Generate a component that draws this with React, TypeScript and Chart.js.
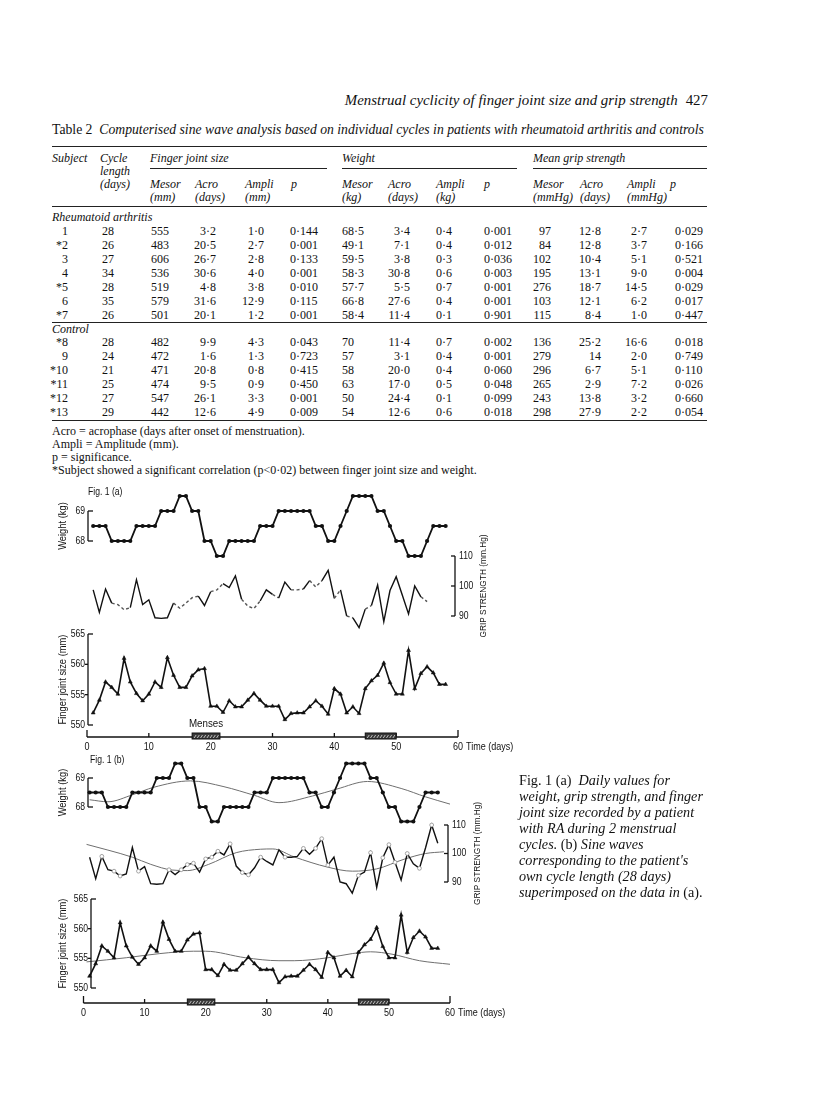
import React, { useEffect, useRef } from 'react';
import { Chart, registerables } from 'chart.js';
Chart.register(...registerables);

// ---------------- DATA ----------------
const days = Array.from({ length: 58 }, (_, i) => i + 1);
const weightKg = [
  68.5, 68.5, 68.5, 68, 68, 68, 68, 68.5, 68.5, 68.5,
  68.5, 69, 69, 69, 69.5, 69.5, 69, 69, 68, 68,
  67.5, 67.5, 68, 68, 68, 68, 68, 68.5, 68.5, 68.5,
  69, 69, 69, 69, 69, 69, 68.5, 68.5, 68, 68,
  68.5, 69, 69.5, 69.5, 69.5, 69.5, 69, 69, 68.5, 68,
  68, 67.5, 67.5, 67.5, 68, 68.5, 68.5, 68.5,
];
const gripMmHg = [
  98.7, 91.2, 99.0, 94.3, 93.8, 92.1, 92.8, 102.1, 93.8, 95.4,
  89.4, 89.2, 89.4, 94.3, 92.6, 94.3, 96.1, 96.6, 93.5, 98.1,
  98.7, 100.8, 99.5, 103.4, 95.6, 93.3, 92.5, 95.0, 98.7, 97.2,
  96.0, 101.3, 98.7, 98.7, 99.0, 101.8, 99.7, 101.8, 105.2, 95.9,
  98.7, 90.0, 89.4, 86.1, 92.3, 93.5, 100.3, 88.1, 98.5, 103.1,
  96.9, 90.7, 100.0, 96.4, 94.8, 102.0, 110.0, 103.6,
];
const fingerMm = [
  552.0, 554.1, 557.1, 556.2, 555.1, 561.0, 557.1, 555.2, 554.0, 555.1,
  557.1, 556.2, 561.1, 558.2, 556.2, 556.2, 558.1, 559.1, 559.3, 553.1,
  553.1, 552.1, 554.0, 553.0, 553.0, 554.1, 555.2, 554.1, 553.1, 553.1,
  553.1, 550.9, 551.9, 552.0, 552.0, 553.0, 554.0, 553.1, 551.8, 556.0,
  555.1, 552.0, 553.0, 551.9, 556.0, 557.3, 558.2, 560.2, 557.0, 555.1,
  555.1, 562.3, 556.0, 558.5, 559.6, 558.6, 556.7, 556.7,
];
const gripDaysInA = 55;
const gripDashedFromDayA = [4, 5, 6, 14, 15, 16, 17, 20, 21, 25, 26, 27, 30, 33, 34, 36, 37, 40, 42, 45, 54];
const gripOpenCircleDaysB = [3, 5, 6, 9, 14, 16, 17, 18, 20, 21, 22, 24, 26, 27, 29, 33, 36, 38, 39, 40, 45, 47, 49, 50, 51, 53, 55, 57];

const weightSineDays = [1, 4, 8, 11.5, 17.5, 23, 28, 32, 37.5, 41.5, 46.5, 52, 56, 60];
const weightSine = [68.25, 68.18, 68.42, 68.68, 68.9, 68.7, 68.4, 68.15, 68.38, 68.62, 68.88, 68.64, 68.35, 68.1];
const gripSineDays = [0.5, 4, 8, 11, 14.5, 17, 20.5, 25, 29, 31, 34.5, 40, 44, 48, 52.5, 56, 59];
const gripSine = [103.2, 101.2, 98.7, 96.2, 94.2, 94.0, 96.2, 100.3, 101.5, 101.6, 98.8, 95.2, 93.8, 94.6, 98.0, 100.0, 100.6];
const fingerSineDays = [0.5, 7, 12.5, 18, 20, 26.5, 32, 34.5, 40, 44, 47, 50.5, 55, 60];
const fingerSine = [554.4, 555.1, 555.8, 556.2, 556.2, 555.1, 554.6, 554.6, 555.1, 555.8, 556.1, 555.7, 554.6, 554.0];

const mensesStart = [17, 45];
const mensesEnd = [21.5, 50];

const xTicks = [0, 10, 20, 30, 40, 50, 60];
const weightTicks = [68, 69];
const gripTicks = [90, 100, 110];
const fingerTicks = [550, 555, 560, 565];

const tableHeadGroups = ['Finger joint size', 'Weight', 'Mean grip strength'];
const raRows = [
  ['1', '28', '555', '3·2', '1·0', '0·144', '68·5', '3·4', '0·4', '0·001', '97', '12·8', '2·7', '0·029'],
  ['*2', '26', '483', '20·5', '2·7', '0·001', '49·1', '7·1', '0·4', '0·012', '84', '12·8', '3·7', '0·166'],
  ['3', '27', '606', '26·7', '2·8', '0·133', '59·5', '3·8', '0·3', '0·036', '102', '10·4', '5·1', '0·521'],
  ['4', '34', '536', '30·6', '4·0', '0·001', '58·3', '30·8', '0·6', '0·003', '195', '13·1', '9·0', '0·004'],
  ['*5', '28', '519', '4·8', '3·8', '0·010', '57·7', '5·5', '0·7', '0·001', '276', '18·7', '14·5', '0·029'],
  ['6', '35', '579', '31·6', '12·9', '0·115', '66·8', '27·6', '0·4', '0·001', '103', '12·1', '6·2', '0·017'],
  ['*7', '26', '501', '20·1', '1·2', '0·001', '58·4', '11·4', '0·1', '0·901', '115', '8·4', '1·0', '0·447'],
];
const controlRows = [
  ['*8', '28', '482', '9·9', '4·3', '0·043', '70', '11·4', '0·7', '0·002', '136', '25·2', '16·6', '0·018'],
  ['9', '24', '472', '1·6', '1·3', '0·723', '57', '3·1', '0·4', '0·001', '279', '14', '2·0', '0·749'],
  ['*10', '21', '471', '20·8', '0·8', '0·415', '58', '20·0', '0·4', '0·060', '296', '6·7', '5·1', '0·110'],
  ['*11', '25', '474', '9·5', '0·9', '0·450', '63', '17·0', '0·5', '0·048', '265', '2·9', '7·2', '0·026'],
  ['*12', '27', '547', '26·1', '3·3', '0·001', '50', '24·4', '0·1', '0·099', '243', '13·8', '3·2', '0·660'],
  ['*13', '29', '442', '12·6', '4·9', '0·009', '54', '12·6', '0·6', '0·018', '298', '27·9', '2·2', '0·054'],
];
const footnotes = [
  'Acro = acrophase (days after onset of menstruation).',
  'Ampli = Amplitude (mm).',
  'p = significance.',
  '*Subject showed a significant correlation (p<0·02) between finger joint size and weight.',
];

// ---------------- LAYOUT ----------------
const FIG_FONT = "'Liberation Sans', Arial, sans-serif";

const figA = {
  left: 40, top: 480, w: 490, h: 280,
  area: { left: 87, right: 458, top: 490, bottom: 737 },
  weight: { v1: 69, p1: 511, v2: 68, p2: 541 },
  grip: { v1: 110, p1: 556, v2: 90, p2: 616 },
  finger: { v1: 565, p1: 634, v2: 550, p2: 725 },
  weightAxisX: 88, gripAxisX: 455, fingerAxisX: 88,
  titleX: 63, gripTitleX: 483,
  label: 'Fig. 1 (a)', labelX: 88, labelY: 492,
  sine: false, gripCount: gripDaysInA, dashed: true, gripPoints: false, mensesLabel: true,
};
const figB = {
  left: 40, top: 748, w: 490, h: 300,
  area: { left: 83.5, right: 450, top: 760, bottom: 1003 },
  weight: { v1: 69, p1: 778, v2: 68, p2: 807 },
  grip: { v1: 110, p1: 825, v2: 90, p2: 882 },
  finger: { v1: 565, p1: 899, v2: 550, p2: 988 },
  weightAxisX: 88, gripAxisX: 448, fingerAxisX: 91,
  titleX: 63, gripTitleX: 477,
  label: 'Fig. 1 (b)', labelX: 90, labelY: 760,
  sine: true, gripCount: 58, dashed: false, gripPoints: true, mensesLabel: false,
};

function rangeFor(a: any, top: number, bottom: number) {
  const k = (a.v1 - a.v2) / (a.p2 - a.p1);
  return { max: a.v1 + (a.p1 - top) * k, min: a.v2 - (bottom - a.p2) * k };
}

function makeDecor(cfg: any) {
  return {
    id: 'figDecor',
    afterDatasetsDraw(chart: any) {
      const ctx = chart.ctx;
      const ox = cfg.left, oy = cfg.top;
      const line = (x1: number, y1: number, x2: number, y2: number) => {
        ctx.beginPath(); ctx.moveTo(x1, y1); ctx.lineTo(x2, y2); ctx.stroke();
      };
      const text = (s: string, x: number, y: number, align: string, size: number, sx = 0.82, rot = 0) => {
        ctx.save();
        ctx.translate(x, y);
        if (rot) ctx.rotate(rot);
        ctx.scale(sx, 1);
        ctx.font = `${size}px ${FIG_FONT}`;
        ctx.textAlign = align;
        ctx.textBaseline = 'middle';
        ctx.fillStyle = '#111';
        ctx.fillText(s, 0, 0);
        ctx.restore();
      };
      ctx.save();
      ctx.strokeStyle = '#111';
      ctx.fillStyle = '#111';
      ctx.lineWidth = 1.3;
      text(cfg.label, cfg.labelX - ox, cfg.labelY - oy, 'left', 10.5);

      const axes = [
        { id: 'yW', x: cfg.weightAxisX, ticks: weightTicks, side: 'left', title: 'Weight (kg)', titleX: cfg.titleX, tsize: 11 },
        { id: 'yG', x: cfg.gripAxisX, ticks: gripTicks, side: 'right', title: 'GRIP STRENGTH (mm.Hg)', titleX: cfg.gripTitleX, tsize: 9.8 },
        { id: 'yF', x: cfg.fingerAxisX, ticks: fingerTicks, side: 'left', title: 'Finger joint size (mm)', titleX: cfg.titleX, tsize: 11 },
      ];
      for (const ax of axes) {
        const sc = chart.scales[ax.id];
        const x = ax.x - ox;
        const ys = ax.ticks.map((v: number) => sc.getPixelForValue(v));
        const yTop = Math.min(...ys), yBot = Math.max(...ys);
        line(x, yTop, x, yBot);
        ax.ticks.forEach((v: number, i: number) => {
          const y = ys[i];
          const isEnd = i === 0 || i === ax.ticks.length - 1;
          if (ax.side === 'left') {
            if (isEnd) line(x, y, x + 5, y); else line(x - 3, y, x, y);
            text(String(v), x - 3, y, 'right', 10.5);
          } else {
            line(x - 4, y, x, y);
            text(String(v), x + 4, y, 'left', 10.5);
          }
        });
        text(ax.title, ax.titleX - ox, (yTop + yBot) / 2, 'center', ax.tsize, 0.85, -Math.PI / 2);
      }

      // x axis
      const xs = chart.scales.x;
      const yAxis = chart.chartArea.bottom;
      const x0 = xs.getPixelForValue(xTicks[0]);
      const x1 = xs.getPixelForValue(xTicks[xTicks.length - 1]);
      line(x0, yAxis, x1, yAxis);
      xTicks.forEach((v, i) => {
        const px = xs.getPixelForValue(v);
        const len = i === 0 || i === xTicks.length - 1 ? 7 : 4;
        line(px, yAxis, px, yAxis - len);
        text(String(v), px, yAxis + 10, 'center', 11);
      });
      text('Time (days)', x1 + 8, yAxis + 10, 'left', 11);

      // menses bars
      mensesStart.forEach((s, i) => {
        const a = xs.getPixelForValue(s);
        const b = xs.getPixelForValue(mensesEnd[i]);
        ctx.fillStyle = '#3a3a3a';
        ctx.fillRect(a, yAxis - 4, b - a, 6);
        ctx.strokeStyle = '#ddd';
        ctx.lineWidth = 0.8;
        for (let hx = a + 2; hx < b - 2; hx += 3.2) line(hx, yAxis + 1, hx + 2, yAxis - 2);
        ctx.strokeStyle = '#111';
        ctx.lineWidth = 1;
        ctx.strokeRect(a, yAxis - 4, b - a, 6);
        ctx.fillStyle = '#111';
        if (cfg.mensesLabel && i === 0) text('Menses', (a + b) / 2, yAxis - 13, 'center', 11.5, 0.85);
      });
      ctx.restore();
    },
  };
}

function FigureChart({ cfg }: { cfg: any }) {
  const ref = useRef<HTMLCanvasElement>(null);
  useEffect(() => {
    if (!ref.current) return;
    const ar = cfg.area;
    const rW = rangeFor(cfg.weight, ar.top, ar.bottom);
    const rG = rangeFor(cfg.grip, ar.top, ar.bottom);
    const rF = rangeFor(cfg.finger, ar.top, ar.bottom);
    const dashedSet = new Set(gripDashedFromDayA);
    const circleSet = new Set(gripOpenCircleDaysB);
    const datasets: any[] = [
      {
        label: 'Weight', yAxisID: 'yW',
        data: days.map((d, i) => ({ x: d, y: weightKg[i] })),
        borderColor: '#111', borderWidth: 1.8, pointRadius: 2.1, pointBackgroundColor: '#111',
        pointBorderWidth: 0, tension: 0, clip: false,
      },
      {
        label: 'Grip strength', yAxisID: 'yG',
        data: days.slice(0, cfg.gripCount).map((d, i) => ({ x: d, y: gripMmHg[i] })),
        borderColor: '#111', borderWidth: 1.4,
        pointRadius: cfg.gripPoints ? days.slice(0, cfg.gripCount).map((d) => (circleSet.has(d) ? 1.9 : 0)) : 0,
        pointBackgroundColor: '#fff', pointBorderColor: '#999',
        pointBorderWidth: 0.9, tension: 0, clip: false,
        segment: {
          borderDash: (c: any) => (cfg.dashed && dashedSet.has(days[c.p0DataIndex]) ? [3, 2.5] : undefined),
          borderColor: (c: any) => (cfg.dashed && dashedSet.has(days[c.p0DataIndex]) ? '#555' : undefined),
        },
      },
      {
        label: 'Finger joint size', yAxisID: 'yF',
        data: days.map((d, i) => ({ x: d, y: fingerMm[i] })),
        borderColor: '#111', borderWidth: 1.6, pointRadius: 2.3, pointStyle: 'triangle',
        pointBackgroundColor: '#111', pointBorderColor: '#111', pointBorderWidth: 0.5, tension: 0, clip: false,
      },
    ];
    if (cfg.sine) {
      const sineStyle = { borderColor: '#6f6f6f', borderWidth: 1, pointRadius: 0, cubicInterpolationMode: 'monotone', clip: false };
      datasets.push(
        { label: 'Weight sine', yAxisID: 'yW', data: weightSineDays.map((d, i) => ({ x: d, y: weightSine[i] })), ...sineStyle },
        { label: 'Grip sine', yAxisID: 'yG', data: gripSineDays.map((d, i) => ({ x: d, y: gripSine[i] })), ...sineStyle },
        { label: 'Finger sine', yAxisID: 'yF', data: fingerSineDays.map((d, i) => ({ x: d, y: fingerSine[i] })), ...sineStyle },
      );
    }
    const chart = new Chart(ref.current, {
      type: 'line',
      data: { datasets },
      options: {
        animation: false,
        responsive: false,
        devicePixelRatio: 1,
        layout: {
          autoPadding: false,
          padding: {
            left: ar.left - cfg.left,
            right: cfg.left + cfg.w - ar.right,
            top: ar.top - cfg.top,
            bottom: cfg.top + cfg.h - ar.bottom,
          },
        },
        plugins: { legend: { display: false }, tooltip: { enabled: false }, title: { display: false } },
        scales: {
          x: { type: 'linear', min: 0, max: 60, display: false },
          yW: { type: 'linear', min: rW.min, max: rW.max, display: false },
          yG: { type: 'linear', min: rG.min, max: rG.max, display: false },
          yF: { type: 'linear', min: rF.min, max: rF.max, display: false },
        },
      } as any,
      plugins: [makeDecor(cfg)],
    } as any);
    return () => chart.destroy();
  }, [cfg]);
  return (
    <canvas
      ref={ref}
      width={cfg.w}
      height={cfg.h}
      style={{ position: 'absolute', left: cfg.left, top: cfg.top, width: cfg.w, height: cfg.h }}
    />
  );
}

// ---------------- TABLE ----------------
const cols = [
  { x: 68, align: 'right' }, { x: 102, align: 'left' },
  { x: 151, align: 'left' }, { x: 216, align: 'right' }, { x: 264, align: 'right' }, { x: 290, align: 'left' },
  { x: 342, align: 'left' }, { x: 410, align: 'right' }, { x: 452, align: 'right' }, { x: 484, align: 'left' },
  { x: 551, align: 'right' }, { x: 601, align: 'right' }, { x: 647, align: 'right' }, { x: 675, align: 'left' },
];

function T({ x, y, align = 'left', italic = false, size = 12, children }: any) {
  const style: any = {
    position: 'absolute', top: y - 7, lineHeight: '14px', fontSize: size, whiteSpace: 'nowrap',
    fontStyle: italic ? 'italic' : 'normal',
  };
  if (align === 'right') style.right = 816 - x; else style.left = x;
  return <div style={style}>{children}</div>;
}

function Rule({ x1, x2, y }: any) {
  return <div style={{ position: 'absolute', left: x1, top: y, width: x2 - x1, height: 0, borderTop: '1px solid #222' }} />;
}

export default function App() {
  const headY1 = 158, headY2 = 184;
  return (
    <div
      style={{
        position: 'absolute', left: 0, top: 0, width: 816, height: 1114, background: '#fff', color: '#111',
        fontFamily: "'Liberation Serif', 'Times New Roman', serif", overflow: 'hidden',
      }}
    >
      <div style={{ position: 'absolute', right: 816 - 708, top: 92, fontSize: 14.9, whiteSpace: 'nowrap' }}>
        <i>Menstrual cyclicity of finger joint size and grip strength</i>
        <span style={{ marginLeft: 8 }}>427</span>
      </div>
      <div style={{ position: 'absolute', left: 52, top: 122, fontSize: 13.7, whiteSpace: 'nowrap' }}>
        Table 2&nbsp;&nbsp;<i>Computerised sine wave analysis based on individual cycles in patients with rheumatoid arthritis and controls</i>
      </div>

      <Rule x1={52} x2={707} y={146} />
      <T x={52} y={headY1} italic>Subject</T>
      <T x={100} y={headY1} italic>Cycle</T>
      <T x={100} y={171} italic>length</T>
      <T x={100} y={184} italic>(days)</T>
      <T x={150} y={headY1} italic>{tableHeadGroups[0]}</T>
      <T x={342} y={headY1} italic>{tableHeadGroups[1]}</T>
      <T x={533} y={headY1} italic>{tableHeadGroups[2]}</T>
      <Rule x1={150} x2={327} y={168} />
      <Rule x1={342} x2={517} y={168} />
      <Rule x1={533} x2={707} y={168} />
      {[
        [150, 'Mesor', '(mm)'], [195, 'Acro', '(days)'], [245, 'Ampli', '(mm)'], [291, 'p', ''],
        [342, 'Mesor', '(kg)'], [388, 'Acro', '(days)'], [436, 'Ampli', '(kg)'], [484, 'p', ''],
        [533, 'Mesor', '(mmHg)'], [580, 'Acro', '(days)'], [627, 'Ampli', '(mmHg)'], [670, 'p', ''],
      ].map(([x, a, b], i) => (
        <React.Fragment key={'h' + i}>
          <T x={x} y={headY2} italic>{a}</T>
          {b ? <T x={x} y={headY2 + 13} italic>{b}</T> : null}
        </React.Fragment>
      ))}
      <Rule x1={52} x2={707} y={206} />
      <T x={52} y={217} italic>Rheumatoid arthritis</T>
      {raRows.map((row, r) =>
        row.map((cell, c) => (
          <T key={`ra${r}-${c}`} x={cols[c].x} y={231 + r * 14} align={cols[c].align}>{cell}</T>
        )),
      )}
      <Rule x1={52} x2={707} y={322} />
      <T x={52} y={329} italic>Control</T>
      {controlRows.map((row, r) =>
        row.map((cell, c) => (
          <T key={`co${r}-${c}`} x={cols[c].x} y={342 + r * 14} align={cols[c].align}>{cell}</T>
        )),
      )}
      <Rule x1={52} x2={707} y={420} />
      {footnotes.map((f, i) => (
        <T key={'fn' + i} x={52} y={431 + i * 13}>{f}</T>
      ))}

      <FigureChart cfg={figA} />
      <FigureChart cfg={figB} />

      <div style={{ position: 'absolute', left: 519, top: 772, fontSize: 14.2, lineHeight: '16px', whiteSpace: 'nowrap' }}>
        Fig. 1 (a)&nbsp;&nbsp;<i>Daily values for</i><br />
        <i>weight, grip strength, and finger</i><br />
        <i>joint size recorded by a patient</i><br />
        <i>with RA during 2 menstrual</i><br />
        <i>cycles. </i>(b)<i> Sine waves</i><br />
        <i>corresponding to the patient's</i><br />
        <i>own cycle length (28 days)</i><br />
        <i>superimposed on the data in </i>(a).
      </div>
    </div>
  );
}
